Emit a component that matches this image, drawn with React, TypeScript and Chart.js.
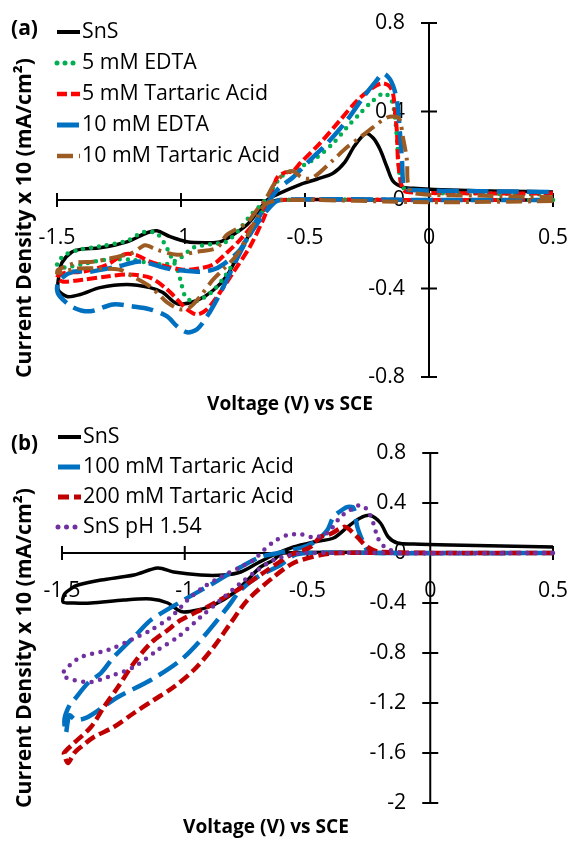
import React, { useEffect, useRef } from "react";
import { Chart, registerables } from "chart.js";
Chart.register(...registerables);

// ---------- shared axis ticks ----------
const xTicks = [-1.5, -1, -0.5, 0, 0.5];
const yTicksA = [0.8, 0.4, 0, -0.4, -0.8];
const yTicksB = [0.8, 0.4, 0, -0.4, -0.8, -1.2, -1.6, -2];

// ---------- panel (a) data: [voltage, current density x10] ----------
const snsA = [
  [0.5, 0], [0.2, 0], [-0.2, 0], [-0.6, 0], [-0.653, -0.02], [-0.71, -0.126], [-0.762, -0.234],
  [-0.815, -0.342], [-0.871, -0.409], [-0.935, -0.454], [-1.004, -0.472], [-1.032, -0.458],
  [-1.073, -0.418], [-1.125, -0.396], [-1.218, -0.382], [-1.327, -0.396], [-1.407, -0.427],
  [-1.46, -0.436], [-1.496, -0.404], [-1.492, -0.34], [-1.48, -0.283], [-1.44, -0.235],
  [-1.4, -0.222], [-1.327, -0.216], [-1.218, -0.189], [-1.137, -0.148], [-1.097, -0.139],
  [-1.044, -0.166], [-0.976, -0.189], [-0.895, -0.193], [-0.843, -0.189], [-0.79, -0.157],
  [-0.734, -0.112], [-0.694, -0.058], [-0.653, 0], [-0.601, 0.031], [-0.52, 0.07],
  [-0.45, 0.095], [-0.387, 0.121], [-0.34, 0.17], [-0.3, 0.245], [-0.255, 0.3], [-0.225, 0.28],
  [-0.198, 0.23], [-0.169, 0.148], [-0.145, 0.085], [-0.105, 0.058], [-0.048, 0.052],
  [0.085, 0.045], [0.3, 0.04], [0.5, 0.036],
];
const edta5A = [
  [0.5, 0], [0, 0], [-0.6, 0], [-0.65, -0.02], [-0.7, -0.11], [-0.76, -0.23], [-0.82, -0.34],
  [-0.88, -0.42], [-0.95, -0.46], [-0.985, -0.43], [-1.0, -0.37], [-1.015, -0.315],
  [-1.04, -0.256], [-1.07, -0.19], [-1.1, -0.15], [-1.15, -0.145], [-1.22, -0.185],
  [-1.33, -0.21], [-1.41, -0.225], [-1.47, -0.25], [-1.5, -0.29], [-1.47, -0.305],
  [-1.4, -0.29], [-1.3, -0.27], [-1.2, -0.27], [-1.13, -0.285], [-1.06, -0.29], [-1.0, -0.26],
  [-0.95, -0.215], [-0.88, -0.2], [-0.82, -0.19], [-0.77, -0.14], [-0.72, -0.07], [-0.66, 0],
  [-0.62, 0.07], [-0.589, 0.112], [-0.52, 0.148], [-0.452, 0.193], [-0.387, 0.256],
  [-0.331, 0.328], [-0.278, 0.391], [-0.226, 0.449], [-0.18, 0.482], [-0.15, 0.449],
  [-0.135, 0.35], [-0.127, 0.24], [-0.12, 0.13], [-0.105, 0.058], [-0.065, 0.036],
  [0.2, 0.03], [0.5, 0.025],
];
const ta5A = [
  [0.5, 0], [0, 0], [-0.6, 0], [-0.64, -0.02], [-0.669, -0.09], [-0.722, -0.211], [-0.79, -0.328],
  [-0.843, -0.418], [-0.895, -0.494], [-0.935, -0.517], [-0.976, -0.494], [-1.016, -0.449],
  [-1.056, -0.404], [-1.125, -0.351], [-1.218, -0.337], [-1.298, -0.346], [-1.395, -0.36],
  [-1.476, -0.369], [-1.5, -0.35], [-1.47, -0.33], [-1.395, -0.324], [-1.298, -0.292],
  [-1.226, -0.245], [-1.177, -0.25], [-1.125, -0.279], [-1.056, -0.301], [-0.992, -0.315],
  [-0.93, -0.31], [-0.871, -0.292], [-0.815, -0.238], [-0.762, -0.18], [-0.694, -0.09],
  [-0.653, -0.02], [-0.63, 0.05], [-0.613, 0.1], [-0.58, 0.125], [-0.55, 0.13], [-0.52, 0.166],
  [-0.44, 0.256], [-0.359, 0.36], [-0.29, 0.449], [-0.226, 0.508], [-0.19, 0.527],
  [-0.16, 0.515], [-0.145, 0.48], [-0.137, 0.404], [-0.129, 0.301], [-0.125, 0.18],
  [-0.109, 0.058], [-0.089, 0.036], [0.2, 0.03], [0.5, 0.03],
];
const edta10A = [
  [0.5, 0], [0, 0], [-0.6, 0], [-0.641, -0.031], [-0.71, -0.135], [-0.762, -0.238],
  [-0.815, -0.36], [-0.855, -0.449], [-0.895, -0.526], [-0.935, -0.584], [-0.976, -0.598],
  [-1.016, -0.571], [-1.056, -0.526], [-1.125, -0.494], [-1.194, -0.481], [-1.274, -0.472],
  [-1.367, -0.503], [-1.435, -0.485], [-1.488, -0.436], [-1.5, -0.4], [-1.488, -0.36],
  [-1.435, -0.324], [-1.367, -0.324], [-1.258, -0.301], [-1.177, -0.279], [-1.137, -0.283],
  [-1.085, -0.301], [-1.032, -0.315], [-0.992, -0.319], [-0.923, -0.324], [-0.871, -0.315],
  [-0.831, -0.292], [-0.762, -0.225], [-0.71, -0.121], [-0.669, -0.045], [-0.63, 0.02],
  [-0.601, 0.058], [-0.548, 0.103], [-0.48, 0.18], [-0.411, 0.256], [-0.331, 0.36],
  [-0.266, 0.463], [-0.215, 0.535], [-0.185, 0.571], [-0.16, 0.55], [-0.145, 0.517],
  [-0.129, 0.449], [-0.117, 0.301], [-0.109, 0.18], [-0.101, 0.058], [-0.077, 0.045],
  [0.2, 0.04], [0.5, 0.036],
];
const ta10A = [
  [0.5, -0.005], [0, -0.01], [-0.6, 0], [-0.661, -0.02], [-0.694, -0.081], [-0.734, -0.166],
  [-0.774, -0.247], [-0.831, -0.315], [-0.871, -0.36], [-0.923, -0.436], [-0.964, -0.485],
  [-1.004, -0.494], [-1.056, -0.463], [-1.085, -0.431], [-1.125, -0.391], [-1.194, -0.346],
  [-1.246, -0.315], [-1.32, -0.31], [-1.42, -0.31], [-1.5, -0.33], [-1.496, -0.315],
  [-1.419, -0.283], [-1.355, -0.279], [-1.274, -0.261], [-1.194, -0.238], [-1.145, -0.205],
  [-1.097, -0.225], [-1.016, -0.247], [-0.935, -0.234], [-0.855, -0.216], [-0.815, -0.157],
  [-0.734, -0.103], [-0.694, -0.045], [-0.661, 0], [-0.62, 0.08], [-0.58, 0.12], [-0.548, 0.13],
  [-0.51, 0.1], [-0.47, 0.1], [-0.387, 0.18], [-0.331, 0.238], [-0.278, 0.283], [-0.226, 0.328],
  [-0.169, 0.373], [-0.13, 0.375], [-0.117, 0.36], [-0.105, 0.283], [-0.089, 0.18],
  [-0.085, 0.076], [-0.065, 0.031], [0.2, 0.02], [0.5, 0.012],
];

// ---------- panel (b) data ----------
const snsB = [
  [0.5, 0], [0, 0], [-0.6, 0], [-0.638, -0.056], [-0.691, -0.112], [-0.744, -0.216],
  [-0.801, -0.32], [-0.882, -0.416], [-0.947, -0.456], [-1.004, -0.472], [-1.028, -0.456],
  [-1.069, -0.4], [-1.138, -0.368], [-1.248, -0.376], [-1.382, -0.4], [-1.451, -0.4],
  [-1.496, -0.392], [-1.49, -0.33], [-1.46, -0.28], [-1.435, -0.256], [-1.341, -0.216],
  [-1.207, -0.176], [-1.11, -0.12], [-1.045, -0.152], [-0.935, -0.176], [-0.841, -0.176],
  [-0.772, -0.152], [-0.703, -0.08], [-0.638, -0.016], [-0.557, 0.048], [-0.476, 0.088],
  [-0.394, 0.12], [-0.337, 0.208], [-0.285, 0.28], [-0.244, 0.3], [-0.203, 0.24],
  [-0.171, 0.128], [-0.134, 0.08], [-0.069, 0.072], [0.081, 0.064], [0.5, 0.048],
];
const ta100B = [
  [0.5, 0], [0, 0], [-0.5, 0], [-0.557, -0.02], [-0.61, -0.096], [-0.703, -0.19],
  [-0.772, -0.296], [-0.825, -0.432], [-0.935, -0.696], [-1.016, -0.856], [-1.138, -1.016],
  [-1.272, -1.152], [-1.394, -1.312], [-1.443, -1.336], [-1.47, -1.3], [-1.484, -1.44],
  [-1.49, -1.33], [-1.47, -1.22], [-1.451, -1.176], [-1.394, -1.04], [-1.341, -0.96],
  [-1.289, -0.832], [-1.191, -0.64], [-1.138, -0.536], [-1.004, -0.376], [-0.882, -0.24],
  [-0.772, -0.112], [-0.691, -0.032], [-0.62, 0], [-0.55, 0.03], [-0.5, 0.06], [-0.459, 0.104],
  [-0.419, 0.184], [-0.394, 0.288], [-0.355, 0.35], [-0.337, 0.368], [-0.313, 0.36],
  [-0.297, 0.208], [-0.272, 0.08], [-0.256, 0.024], [-0.224, 0], [0.5, 0],
];
const ta200B = [
  [0.5, 0], [0, 0], [-0.366, 0], [-0.447, -0.016], [-0.557, -0.08], [-0.638, -0.192],
  [-0.744, -0.376], [-0.813, -0.56], [-0.882, -0.752], [-0.963, -0.936], [-1.045, -1.072],
  [-1.126, -1.176], [-1.207, -1.28], [-1.289, -1.392], [-1.37, -1.472], [-1.423, -1.552],
  [-1.45, -1.6], [-1.476, -1.68], [-1.49, -1.62], [-1.492, -1.6], [-1.451, -1.52],
  [-1.382, -1.392], [-1.329, -1.232], [-1.272, -1.072], [-1.207, -0.88], [-1.138, -0.72],
  [-1.069, -0.616], [-1.016, -0.536], [-0.894, -0.416], [-0.772, -0.28], [-0.663, -0.136],
  [-0.57, -0.016], [-0.52, 0.02], [-0.488, 0.048], [-0.447, 0.128], [-0.407, 0.152],
  [-0.354, 0.208], [-0.337, 0.2], [-0.297, 0.128], [-0.256, 0.048], [-0.203, 0.008], [0.5, 0],
];
const ph154B = [
  [0.5, 0], [0, 0], [-0.5, 0], [-0.57, -0.016], [-0.638, -0.056], [-0.703, -0.136],
  [-0.772, -0.24], [-0.854, -0.376], [-0.935, -0.512], [-1.028, -0.672], [-1.11, -0.776],
  [-1.207, -0.912], [-1.313, -0.992], [-1.382, -1.032], [-1.451, -1.016], [-1.49, -0.99],
  [-1.496, -0.96], [-1.476, -0.912], [-1.423, -0.832], [-1.313, -0.776], [-1.22, -0.696],
  [-1.138, -0.616], [-1.057, -0.512], [-0.988, -0.376], [-0.923, -0.272], [-0.854, -0.192],
  [-0.772, -0.112], [-0.72, -0.056], [-0.68, 0.02], [-0.63, 0.1], [-0.581, 0.144],
  [-0.528, 0.15], [-0.476, 0.125], [-0.419, 0.16], [-0.366, 0.288], [-0.325, 0.344],
  [-0.285, 0.384], [-0.256, 0.344], [-0.232, 0.24], [-0.215, 0.128], [-0.195, 0.064],
  [-0.163, 0.024], [-0.12, 0], [0.5, 0],
];

const seriesA = [
  { label: "SnS", data: snsA, color: "#000000", dash: [], width: 3.5, cap: "butt" },
  { label: "5 mM EDTA", data: edta5A, color: "#00B050", dash: [0, 8], width: 4.5, cap: "round" },
  { label: "5 mM Tartaric Acid", data: ta5A, color: "#FF0000", dash: [10, 4], width: 4, cap: "butt" },
  { label: "10 mM EDTA", data: edta10A, color: "#0070C0", dash: [22, 8], width: 4.5, cap: "butt" },
  { label: "10 mM Tartaric Acid", data: ta10A, color: "#9C5B22", dash: [16, 6, 3, 6], width: 4, cap: "butt" },
];
const seriesB = [
  { label: "SnS", data: snsB, color: "#000000", dash: [], width: 3.5, cap: "butt" },
  { label: "100 mM Tartaric Acid", data: ta100B, color: "#0070C0", dash: [22, 8], width: 4.5, cap: "butt" },
  { label: "200 mM Tartaric Acid", data: ta200B, color: "#C00000", dash: [11, 5], width: 4.5, cap: "butt" },
  { label: "SnS pH 1.54", data: ph154B, color: "#7030A0", dash: [0, 8.5], width: 4.5, cap: "round" },
];

const FONT = "'Open Sans', 'Noto Sans', sans-serif";
const X_TITLE = "Voltage (V) vs SCE";
const Y_TITLE = "Current Density x 10 (mA/cm\u00B2)";

function fitFont(ctx: CanvasRenderingContext2D, text: string, weight: string, target: number) {
  ctx.font = `${weight} 20px ${FONT}`;
  const w = ctx.measureText(text).width || 1;
  const size = (20 * target) / w;
  ctx.font = `${weight} ${size.toFixed(2)}px ${FONT}`;
}

type PanelCfg = {
  series: any[];
  yTicks: number[];
  height: number;
  padding: { left: number; right: number; top: number; bottom: number };
  tag: string;
  tagPos: [number, number];
  legendStart: [number, number];
  legendStep: number;
  legendRef: [string, number];
  xTitlePos: [number, number];
  yTitlePos: [number, number];
};

function makeDecor(cfg: PanelCfg) {
  return {
    id: "decor",
    beforeDatasetsDraw(chart: any) {
      const ctx = chart.ctx;
      const xs = chart.scales.x;
      const ys = chart.scales.y;
      const x0 = xs.getPixelForValue(0);
      const y0 = ys.getPixelForValue(0);
      ctx.save();
      ctx.strokeStyle = "#000";
      ctx.lineWidth = 2;
      ctx.setLineDash([]);
      ctx.beginPath();
      ctx.moveTo(xs.getPixelForValue(xTicks[0]), y0);
      ctx.lineTo(xs.getPixelForValue(xTicks[xTicks.length - 1]), y0);
      ctx.moveTo(x0, ys.getPixelForValue(cfg.yTicks[0]));
      ctx.lineTo(x0, ys.getPixelForValue(cfg.yTicks[cfg.yTicks.length - 1]));
      xTicks.forEach((t) => {
        const px = xs.getPixelForValue(t);
        ctx.moveTo(px, y0 - 7);
        ctx.lineTo(px, y0 + 7);
      });
      cfg.yTicks.forEach((t) => {
        const py = ys.getPixelForValue(t);
        ctx.moveTo(x0 - 8, py);
        ctx.lineTo(x0 + 8, py);
      });
      ctx.stroke();
      ctx.fillStyle = "#000";
      fitFont(ctx, "0.8", "normal", 30);
      ctx.textAlign = "center";
      ctx.textBaseline = "middle";
      xTicks.forEach((t) => {
        ctx.fillText(String(t), xs.getPixelForValue(t), y0 + 38);
      });
      ctx.textAlign = "right";
      cfg.yTicks.forEach((t) => {
        ctx.fillText(String(t), x0 - 24, ys.getPixelForValue(t));
      });
      ctx.restore();
    },
    afterDatasetsDraw(chart: any) {
      const ctx = chart.ctx;
      ctx.save();
      ctx.fillStyle = "#000";
      // legend
      cfg.series.forEach((s, i) => {
        const y = cfg.legendStart[1] + i * cfg.legendStep;
        const x = cfg.legendStart[0];
        ctx.strokeStyle = s.color;
        ctx.lineWidth = s.width + 0.5;
        ctx.lineCap = s.cap;
        ctx.setLineDash(s.dash);
        ctx.beginPath();
        ctx.moveTo(x, y);
        ctx.lineTo(x + 23, y);
        ctx.stroke();
        ctx.setLineDash([]);
        fitFont(ctx, cfg.legendRef[0], "normal", cfg.legendRef[1]);
        ctx.textAlign = "left";
        ctx.textBaseline = "middle";
        ctx.fillText(s.label, x + 25, y);
      });
      // panel tag
      fitFont(ctx, cfg.tag, "bold", 27);
      ctx.textAlign = "left";
      ctx.textBaseline = "middle";
      ctx.fillText(cfg.tag, cfg.tagPos[0], cfg.tagPos[1]);
      // x title
      fitFont(ctx, X_TITLE, "bold", 166);
      ctx.textAlign = "center";
      ctx.fillText(X_TITLE, cfg.xTitlePos[0], cfg.xTitlePos[1]);
      // y title
      ctx.translate(cfg.yTitlePos[0], cfg.yTitlePos[1]);
      ctx.rotate(-Math.PI / 2);
      fitFont(ctx, Y_TITLE, "bold", 320);
      ctx.fillText(Y_TITLE, 0, 0);
      ctx.restore();
    },
  };
}

function Panel({ cfg }: { cfg: PanelCfg }) {
  const ref = useRef<HTMLCanvasElement | null>(null);
  useEffect(() => {
    if (!ref.current) return;
    const n = cfg.series.length;
    const chart = new Chart(ref.current, {
      type: "scatter",
      data: {
        datasets: cfg.series.map((s, i) => ({
          label: s.label,
          data: s.data.map((p: number[]) => ({ x: p[0], y: p[1] })),
          showLine: true,
          borderColor: s.color,
          backgroundColor: s.color,
          borderWidth: s.width,
          borderDash: s.dash,
          borderCapStyle: s.cap,
          borderJoinStyle: "round",
          pointRadius: 0,
          pointHoverRadius: 0,
          tension: 0.3,
          fill: false,
          order: n - i,
          clip: 8,
        })),
      },
      options: {
        animation: false,
        responsive: false,
        devicePixelRatio: 1,
        events: [],
        layout: { padding: cfg.padding },
        scales: {
          x: { type: "linear", min: xTicks[0], max: xTicks[xTicks.length - 1], display: false },
          y: {
            type: "linear",
            min: cfg.yTicks[cfg.yTicks.length - 1],
            max: cfg.yTicks[0],
            display: false,
          },
        },
        plugins: { legend: { display: false }, tooltip: { enabled: false } },
      },
      plugins: [makeDecor(cfg)],
    } as any);
    return () => chart.destroy();
  }, [cfg]);
  return <canvas ref={ref} width={571} height={cfg.height} style={{ display: "block" }} />;
}

const cfgA: PanelCfg = {
  series: seriesA,
  yTicks: yTicksA,
  height: 420,
  padding: { left: 57, right: 18, top: 23, bottom: 43 },
  tag: "(a)",
  tagPos: [11, 29],
  legendStart: [57, 32],
  legendStep: 31,
  legendRef: ["5 mM Tartaric Acid", 186],
  xTitlePos: [290, 405],
  yTitlePos: [25, 218],
};
const cfgB: PanelCfg = {
  series: seriesB,
  yTicks: yTicksB,
  height: 421,
  padding: { left: 62, right: 18, top: 33, bottom: 38 },
  tag: "(b)",
  tagPos: [11, 24],
  legendStart: [58, 17],
  legendStep: 30,
  legendRef: ["100 mM Tartaric Acid", 211],
  xTitlePos: [266, 408],
  yTitlePos: [25, 228],
};

export default function App() {
  return (
    <div style={{ position: "absolute", left: 0, top: 0, width: 571, height: 841, background: "#fff" }}>
      <Panel cfg={cfgA} />
      <Panel cfg={cfgB} />
    </div>
  );
}
